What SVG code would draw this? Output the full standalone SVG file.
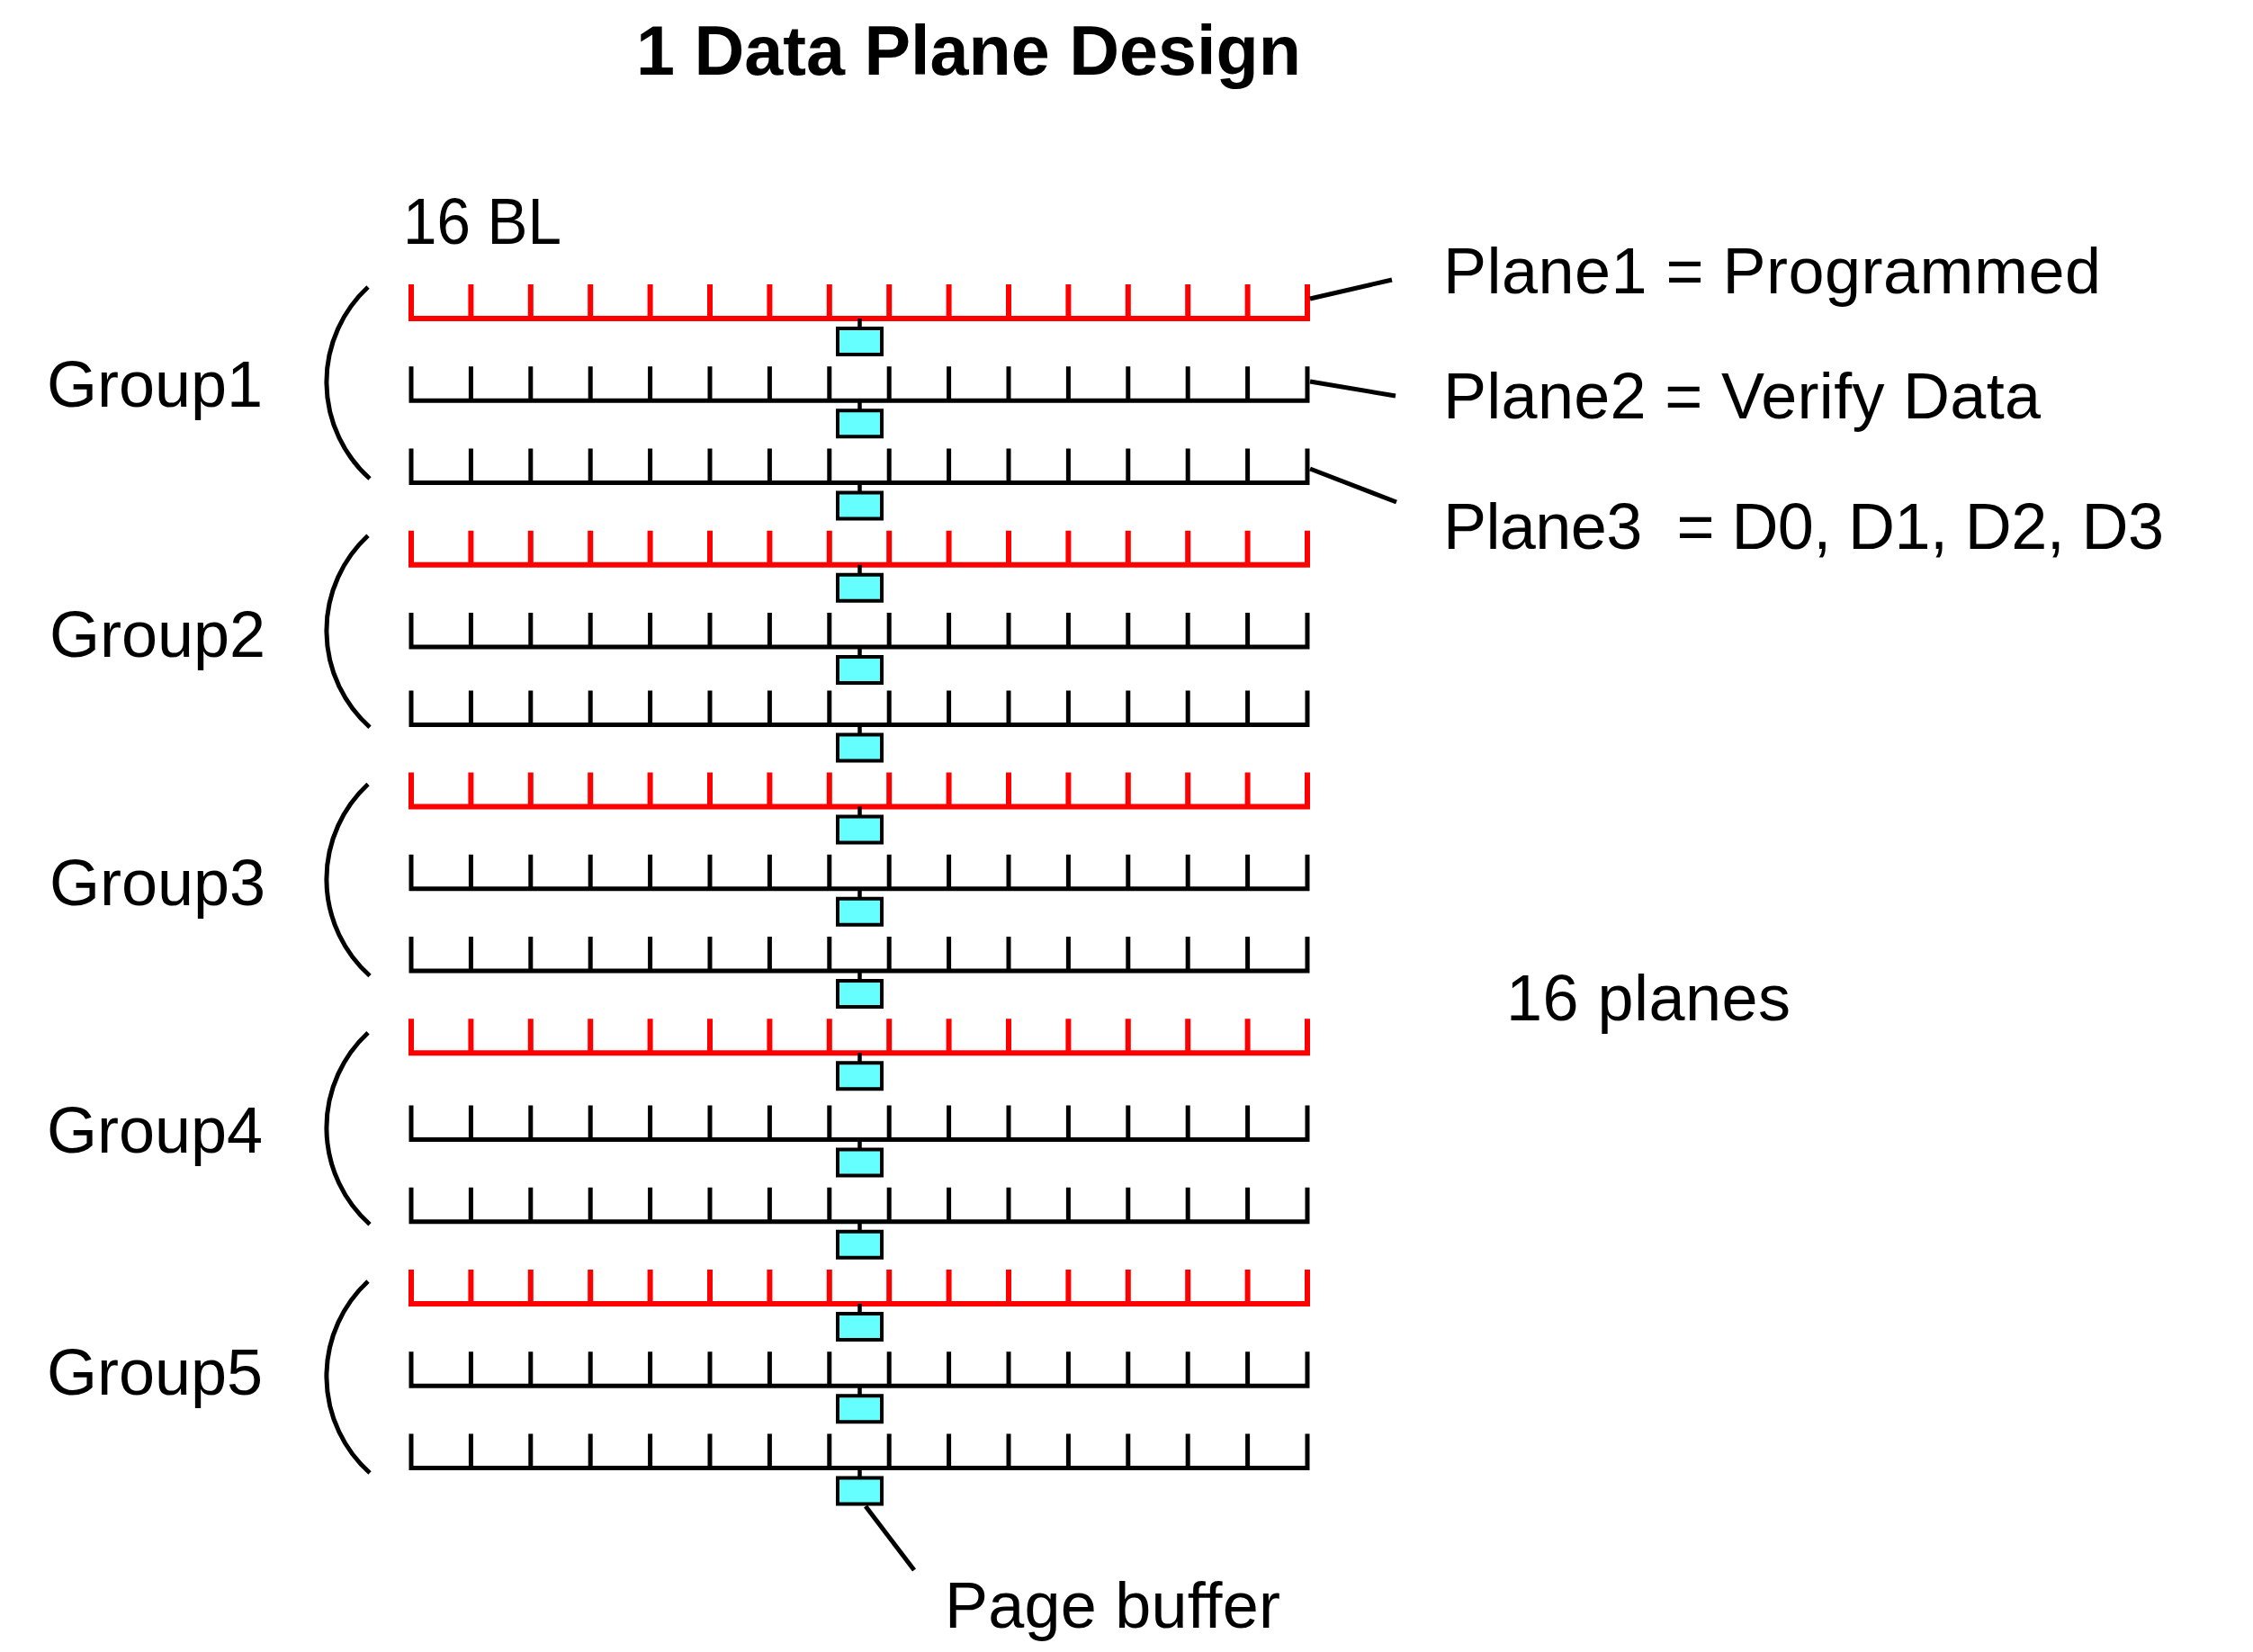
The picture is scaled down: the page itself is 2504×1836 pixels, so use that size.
<svg xmlns="http://www.w3.org/2000/svg" xmlns:xlink="http://www.w3.org/1999/xlink" width="2504" height="1836" viewBox="0 0 2504 1836">
<style>
  text { font-family: "Liberation Sans", Arial, sans-serif; font-size: 72px; fill: #000; }
  .title { font-weight: bold; font-size: 78px; }
  .red { stroke: #FF0000; stroke-width: 6; fill: none; }
  .blk { stroke: #000; stroke-width: 5; fill: none; }
  .bracket { stroke: #000; stroke-width: 5; fill: none; }
  .lead { stroke: #000; stroke-width: 5; fill: none; }
  .pbuf rect { fill: #66FFFF; stroke: #000; stroke-width: 4; }
  .pbuf line { stroke: #000; stroke-width: 4.5; }
</style>
<defs>
  <path id="ticks" stroke-linejoin="miter" d="M0,-38 V0 H996 V-38 M66.4,-38 V0 M132.8,-38 V0 M199.2,-38 V0 M265.6,-38 V0 M332,-38 V0 M398.4,-38 V0 M464.8,-38 V0 M531.2,-38 V0 M597.6,-38 V0 M664,-38 V0 M730.4,-38 V0 M796.8,-38 V0 M863.2,-38 V0 M929.6,-38 V0"/>
  <g id="pb" class="pbuf">
    <line x1="498.5" y1="0" x2="498.5" y2="11"/>
    <rect x="474" y="11" width="49" height="29"/>
  </g>
  <path id="brk" d="M0,0 A144,144 0 0,0 2,213"/>
</defs>

<text class="title" x="707" y="83" textLength="739" lengthAdjust="spacingAndGlyphs">1 Data Plane Design</text>
<text x="448" y="271" textLength="176" lengthAdjust="spacingAndGlyphs">16 BL</text>

<g id="plane1" transform="translate(457,354)"><use href="#ticks" class="red"/><use href="#pb"/></g>
<g id="plane2" transform="translate(457,445.25)"><use href="#ticks" class="blk"/><use href="#pb"/></g>
<g id="plane3" transform="translate(457,536.5)"><use href="#ticks" class="blk"/><use href="#pb"/></g>
<g id="plane4" transform="translate(457,627.75)"><use href="#ticks" class="red"/><use href="#pb"/></g>
<g id="plane5" transform="translate(457,719)"><use href="#ticks" class="blk"/><use href="#pb"/></g>
<g id="plane6" transform="translate(457,805.5)"><use href="#ticks" class="blk"/><use href="#pb"/></g>
<g id="plane7" transform="translate(457,896.5)"><use href="#ticks" class="red"/><use href="#pb"/></g>
<g id="plane8" transform="translate(457,987.75)"><use href="#ticks" class="blk"/><use href="#pb"/></g>
<g id="plane9" transform="translate(457,1079)"><use href="#ticks" class="blk"/><use href="#pb"/></g>
<g id="plane10" transform="translate(457,1170.25)"><use href="#ticks" class="red"/><use href="#pb"/></g>
<g id="plane11" transform="translate(457,1266.5)"><use href="#ticks" class="blk"/><use href="#pb"/></g>
<g id="plane12" transform="translate(457,1357.75)"><use href="#ticks" class="blk"/><use href="#pb"/></g>
<g id="plane13" transform="translate(457,1449)"><use href="#ticks" class="red"/><use href="#pb"/></g>
<g id="plane14" transform="translate(457,1540.25)"><use href="#ticks" class="blk"/><use href="#pb"/></g>
<g id="plane15" transform="translate(457,1631.5)"><use href="#ticks" class="blk"/><use href="#pb"/></g>

<g id="group1"><use href="#brk" class="bracket" transform="translate(409,319)"/><text x="52" y="452">Group1</text></g>
<g id="group2"><use href="#brk" class="bracket" transform="translate(409,595.25)"/><text x="55" y="730">Group2</text></g>
<g id="group3"><use href="#brk" class="bracket" transform="translate(409,871.5)"/><text x="55" y="1006">Group3</text></g>
<g id="group4"><use href="#brk" class="bracket" transform="translate(409,1147.75)"/><text x="52" y="1281">Group4</text></g>
<g id="group5"><use href="#brk" class="bracket" transform="translate(409,1424)"/><text x="52" y="1550">Group5</text></g>

<g id="labels">
  <text x="1604" y="326" textLength="731">Plane1 = Programmed</text>
  <text x="1604" y="465" textLength="664">Plane2 = Verify Data</text>
  <text x="1604" y="610" textLength="801" xml:space="preserve">Plane3  = D0, D1, D2, D3</text>
  <text x="1674" y="1134" textLength="316">16 planes</text>
  <text x="1050" y="1809" textLength="373">Page buffer</text>
</g>

<g id="connectors">
  <line class="lead" x1="1456" y1="332" x2="1547" y2="311"/>
  <line class="lead" x1="1456" y1="424" x2="1551" y2="440"/>
  <line class="lead" x1="1456" y1="521" x2="1552" y2="558"/>
  <line class="lead" x1="962" y1="1674" x2="1016" y2="1745"/>
</g>
</svg>
